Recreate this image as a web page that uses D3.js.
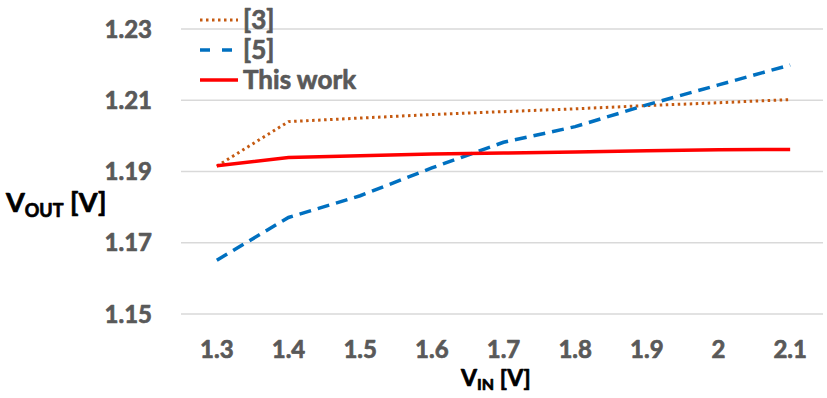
<!DOCTYPE html>
<html>
<head>
<meta charset="utf-8">
<style>
  body { margin: 0; background: #fff; }
  text { font-family: Lato, "Open Sans", sans-serif; font-weight: bold; stroke-width: 0.7px; stroke-linejoin: round; }
</style>
</head>
<body>
<script src="https://cdn.jsdelivr.net/npm/d3@7"></script>
<script>
  var w = 827, h = 398;

  var vin = ["1.3", "1.4", "1.5", "1.6", "1.7", "1.8", "1.9", "2", "2.1"];
  var ref3 = [1.1915, 1.2040, 1.2050, 1.2060, 1.2068, 1.2076, 1.2085, 1.2093, 1.2102];
  var ref5 = [1.1651, 1.1771, 1.1832, 1.1910, 1.1982, 1.2026, 1.2087, 1.2143, 1.2199];
  var thisWork = [1.1916, 1.1939, 1.1944, 1.1949, 1.1952, 1.1955, 1.1958, 1.1961, 1.1962];
  var yTicks = [1.15, 1.17, 1.19, 1.21, 1.23];

  var series = [
    { name: "[3]", values: ref3, color: "#C55A11", width: 3, dash: "2.5,3.5" },
    { name: "[5]", values: ref5, color: "#0070C0", width: 3.5, dash: "12,7" },
    { name: "This work", values: thisWork, color: "#FF0000", width: 3.5, dash: null }
  ];

  var svg = d3.select("body").append("svg")
    .attr("width", w)
    .attr("height", h);

  var x = d3.scalePoint().domain(vin).range([181, 826]).padding(0.5);
  var y = d3.scaleLinear().domain([1.15, 1.23]).range([314, 29]);

  // gridlines
  svg.selectAll("line.grid")
    .data(yTicks)
    .enter()
    .append("line")
    .attr("class", "grid")
    .attr("x1", 181).attr("x2", 823)
    .attr("y1", function (d) { return y(d); })
    .attr("y2", function (d) { return y(d); })
    .attr("stroke", "#D9D9D9")
    .attr("stroke-width", 1.3);

  // y tick labels
  svg.selectAll("text.ytick")
    .data(yTicks)
    .enter()
    .append("text")
    .attr("class", "ytick")
    .attr("x", 152)
    .attr("y", function (d) { return y(d); })
    .attr("dy", "0.36em")
    .attr("text-anchor", "end")
    .attr("fill", "#595959")
    .attr("stroke", "#595959")
    .style("font-size", "24px")
    .text(function (d) { return d.toFixed(2); });

  // x tick labels
  svg.selectAll("text.xtick")
    .data(vin)
    .enter()
    .append("text")
    .attr("class", "xtick")
    .attr("x", function (d) { return x(d); })
    .attr("y", 358)
    .attr("text-anchor", "middle")
    .attr("fill", "#595959")
    .attr("stroke", "#595959")
    .style("font-size", "24px")
    .text(function (d) { return d; });

  var line = d3.line()
    .x(function (d, i) { return x(vin[i]); })
    .y(function (d) { return y(d); });

  svg.selectAll("path.series")
    .data(series)
    .enter()
    .append("path")
    .attr("class", "series")
    .attr("d", function (d) { return line(d.values); })
    .attr("fill", "none")
    .attr("stroke", function (d) { return d.color; })
    .attr("stroke-width", function (d) { return d.width; })
    .attr("stroke-dasharray", function (d) { return d.dash; });

  // legend
  var leg = svg.selectAll("g.leg")
    .data(series)
    .enter()
    .append("g")
    .attr("class", "leg")
    .attr("transform", function (d, i) { return "translate(200," + (20 + i * 30) + ")"; });

  leg.append("line")
    .attr("x1", 0).attr("x2", 38)
    .attr("stroke", function (d) { return d.color; })
    .attr("stroke-width", function (d) { return d.width; })
    .attr("stroke-dasharray", function (d) { return d.name === "[5]" ? "10,12" : d.dash; });

  leg.append("text")
    .attr("x", 43)
    .attr("dy", "0.36em")
    .attr("fill", "#595959")
    .attr("stroke", "#595959")
    .style("font-size", "26px")
    .text(function (d) { return d.name; });

  // axis titles
  var yt = svg.append("text")
    .attr("x", 6).attr("y", 212)
    .attr("fill", "#000")
    .attr("stroke", "#000")
    .style("font-size", "27px");
  yt.append("tspan").text("V");
  yt.append("tspan").attr("dy", 5).style("font-size", "18px").text("OUT");
  yt.append("tspan").attr("dy", -5).text(" [V]");

  var xt = svg.append("text")
    .attr("x", 461).attr("y", 386)
    .attr("fill", "#000")
    .attr("stroke", "#000")
    .style("font-size", "23px");
  xt.append("tspan").text("V");
  xt.append("tspan").attr("dy", 4).style("font-size", "16px").text("IN");
  xt.append("tspan").attr("dy", -4).text(" [V]");
</script>
</body>
</html>
